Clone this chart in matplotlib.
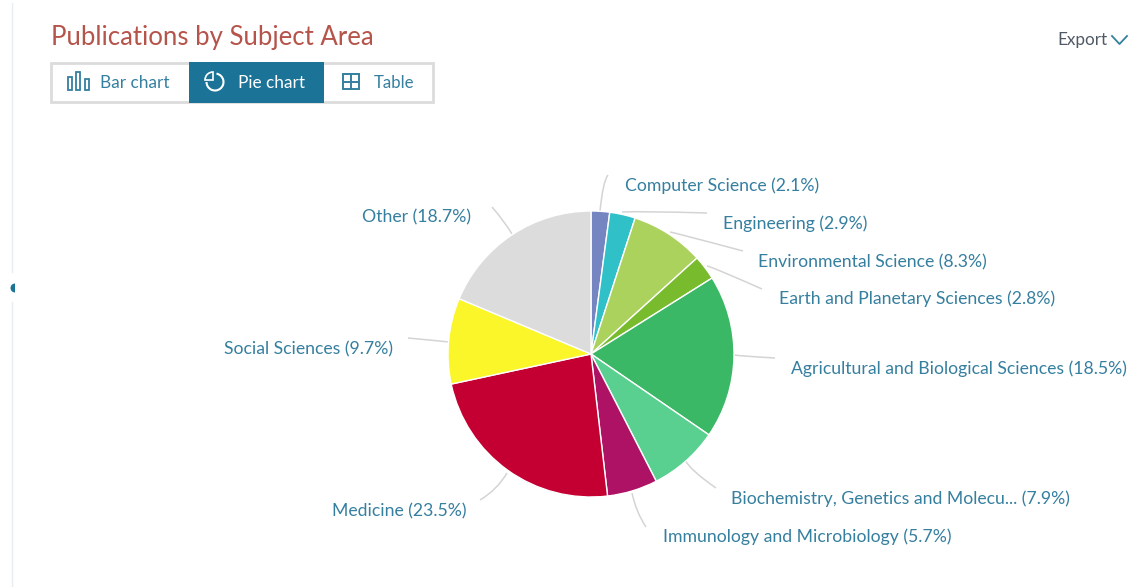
import matplotlib
matplotlib.use("Agg")
import matplotlib.pyplot as plt
from matplotlib.patches import Rectangle, Wedge, Arc
from matplotlib.path import Path
from matplotlib.patches import PathPatch

categories = ["Computer Science", "Engineering", "Environmental Science",
              "Earth and Planetary Sciences", "Agricultural and Biological Sciences",
              "Biochemistry, Genetics and Molecu...", "Immunology and Microbiology",
              "Medicine", "Social Sciences", "Other"]
shares = [2.1, 2.9, 8.3, 2.8, 18.5, 7.9, 5.7, 23.5, 9.7, 18.7]
colors = ["#7585c1", "#2fc0c8", "#abd25c", "#78bc2e", "#3bb866",
          "#59d08f", "#ae1264", "#c40033", "#faf62a", "#dcdcdc"]
tabs = ["Bar chart", "Pie chart", "Table"]
title = "Publications by Subject Area"

W, H = 1131, 587
FONT = "Lato"
TEAL = "#357f9f"
fig = plt.figure(figsize=(W / 100, H / 100), dpi=100, facecolor="white")

ov = fig.add_axes([0, 0, 1, 1])
ov.set_xlim(0, W); ov.set_ylim(H, 0); ov.axis("off")

pie_ax = fig.add_axes([448 / W, (H - 497) / H, 286 / W, 286 / H])
pie_ax.pie(shares, colors=colors, startangle=90, counterclock=False, radius=1,
           wedgeprops=dict(edgecolor="white", linewidth=1.0))
pie_ax.set_xlim(-1, 1); pie_ax.set_ylim(-1, 1)
for w in pie_ax.patches:
    w.set_clip_on(False)

# label anchors and leader lines, in page pixels
label_pos = [(625, 186), (723, 224), (758, 262), (779, 299), (791, 369),
             (731, 499), (663, 537), (466, 511), (393, 349), (471, 217)]
label_ha = ["left"] * 7 + ["right"] * 3
leaders = [[(600, 211), (603, 181), (608, 175)],
           [(622, 212), (640, 211), (707, 213)],
           [(670, 232), (672, 232), (743, 251)],
           [(707, 266), (710, 266), (762, 289)],
           [(734, 355), (740, 356), (775, 358)],
           [(685, 460), (690, 470), (716, 488)],
           [(632, 493), (636, 512), (646, 527)],
           [(507, 473), (497, 490), (480, 500)],
           [(449, 342), (440, 341), (408, 338)],
           [(512, 234), (505, 222), (492, 207)]]
for pts in leaders:
    ov.add_patch(PathPatch(Path(pts, [Path.MOVETO, Path.CURVE3, Path.CURVE3]),
                           fc="none", ec="#d4d4d4", lw=1.1))
for c, s, p, ha in zip(categories, shares, label_pos, label_ha):
    ov.text(p[0], p[1], f"{c} ({s}%)", color=TEAL, family=FONT, fontsize=12.72,
            ha=ha, va="center")

# header
ov.text(51, 38, title, color="#b5544a", family=FONT, fontsize=18.5, va="center", ha="left")
ov.text(1057, 40, "Export", color="#505a66", family=FONT, fontsize=12.3, va="center", ha="left")
ov.plot([1112, 1119.5, 1127], [36, 44, 36], color=TEAL, lw=1.3)

# tab group
ov.add_patch(Rectangle((51, 63), 381.5, 39, fc="white", ec="#dcdcdc", lw=2))
ov.add_patch(Rectangle((189, 62), 135, 41, fc="#1b7397", ec="none"))
ov.text(100, 83, tabs[0], color=TEAL, family=FONT, fontsize=12.4, va="center")
ov.text(238, 83, tabs[1], color="white", family=FONT, fontsize=12.4, va="center")
ov.text(374, 83, tabs[2], color=TEAL, family=FONT, fontsize=12.1, va="center")
# bar icon
for x, y0, w_, h in [(68, 77, 4, 13), (76, 72, 4, 18), (85, 79, 4, 11)]:
    ov.add_patch(Rectangle((x, y0), w_, h, fc="none", ec=TEAL, lw=1.3))
# pie icon
ov.add_patch(Arc((215, 82), 17, 17, theta1=-80, theta2=180, ec="white", lw=1.5))
ov.add_patch(Wedge((213, 80), 8, 180, 270, fc="none", ec="white", lw=1.2))
# table icon
ov.add_patch(Rectangle((343, 74), 16, 15, fc="none", ec=TEAL, lw=1.4))
ov.plot([351, 351], [74, 89], color=TEAL, lw=1.4)
ov.plot([343, 359], [81.5, 81.5], color=TEAL, lw=1.4)

# sidebar edge
ov.plot([11.5, 11.5], [3, 272], color="#e6edf3", lw=1)
ov.plot([11.5, 11.5], [302, 587], color="#e6edf3", lw=1)
ov.add_patch(Wedge((15, 288), 4.5, 90, 270, fc="#1b7397", ec="none"))

fig.savefig("out.png", dpi=100, facecolor="white")
